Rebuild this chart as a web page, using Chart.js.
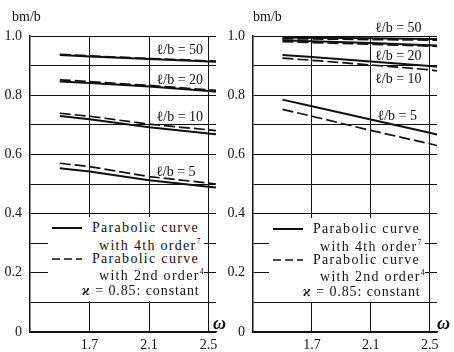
<!DOCTYPE html>
<html lang="en">
<head>
<meta charset="UTF-8">
<title>bm/b against omega</title>
<script src="https://cdn.jsdelivr.net/npm/chart.js"></script>
<style>
    body {
        margin: 0;
        background: #fff;
        color: #111;
        font-family: "Liberation Serif", "DejaVu Serif", serif;
    }
    #wrap {
        position: relative;
        width: 454px;
        height: 352px;
        overflow: hidden;
    }
    canvas {
        position: absolute;
        top: 0;
    }
    #leftChart { left: 0; }
    #rightChart { left: 227px; }
    .txt {
        position: absolute;
        white-space: nowrap;
        font-size: 14px;
        line-height: 16px;
        transform: translateY(-50%);
    }
    .spaced { letter-spacing: 1.3px; }
    .kappa { letter-spacing: 0.9px; }
    .txt sup { font-size: 8px; vertical-align: 6px; line-height: 0; }
    .omega { font-size: 18px; font-weight: bold; font-style: italic; }
    .legend-box {
        position: absolute;
        background: #fff;
    }
    svg.sample {
        position: absolute;
        overflow: visible;
    }
</style>
</head>
<body>
<div id="wrap">
    <canvas id="leftChart" width="227" height="352"></canvas>
    <canvas id="rightChart" width="227" height="352"></canvas>

    <span class="txt" style="left:12px; top:17px;">bm/b</span>
    <span class="txt" style="left:253px; top:17px;">bm/b</span>
    <span class="txt omega" style="left:213px; top:323px;">ω</span>
    <span class="txt omega" style="left:437px; top:323px;">ω</span>
</div>

<script>
// x values where the curves are read (omega)
const omega = [1.5, 1.7, 2.1, 2.5, 2.55];
const xTicks = [1.7, 2.1, 2.5];
const yLabelled = [0, 0.2, 0.4, 0.6, 0.8, 1.0];
const ratioNames = ['ℓ/b = 50', 'ℓ/b = 20', 'ℓ/b = 10', 'ℓ/b = 5'];

// left panel: solid = parabolic 4th order, dashed = parabolic 2nd order
const left4th50 = [0.936, 0.931, 0.922, 0.914, 0.913];
const left2nd50 = [0.938, 0.933, 0.924, 0.916, 0.915];
const left4th20 = [0.846, 0.841, 0.829, 0.814, 0.812];
const left2nd20 = [0.852, 0.846, 0.833, 0.818, 0.816];
const left4th10 = [0.730, 0.719, 0.692, 0.671, 0.668];
const left2nd10 = [0.739, 0.729, 0.702, 0.683, 0.680];
const left4th5  = [0.553, 0.542, 0.513, 0.491, 0.488];
const left2nd5  = [0.570, 0.559, 0.525, 0.503, 0.500];

// right panel
const right4th50 = [0.995, 0.994, 0.992, 0.990, 0.990];
const right2nd50 = [0.991, 0.990, 0.988, 0.986, 0.986];
const right4th20 = [0.986, 0.982, 0.976, 0.969, 0.968];
const right2nd20 = [0.981, 0.978, 0.972, 0.966, 0.965];
const right4th10 = [0.936, 0.929, 0.914, 0.899, 0.896];
const right2nd10 = [0.925, 0.918, 0.902, 0.886, 0.882];
const right4th5  = [0.785, 0.763, 0.718, 0.673, 0.667];
const right2nd5  = [0.752, 0.729, 0.681, 0.636, 0.630];

const ink = '#111';
const serif = '"Liberation Serif", "DejaVu Serif", serif';

function toPoints(arr) {
    return omega.map((x, i) => ({ x: x, y: arr[i] }));
}

function curve(arr, dashed) {
    return {
        data: toPoints(arr),
        borderColor: ink,
        borderWidth: dashed ? 1.7 : 2,
        borderDash: dashed ? [11, 4] : [],
        pointRadius: 0,
        tension: 0,
        fill: false
    };
}

// draws the l/b labels next to the curves
const curveLabels = {
    id: 'curveLabels',
    afterDatasetsDraw(chart, args, opts) {
        const ctx = chart.ctx;
        const xs = chart.scales.x, ys = chart.scales.y;
        ctx.save();
        ctx.font = '14px ' + serif;
        ctx.fillStyle = ink;
        ctx.textAlign = 'center';
        ctx.textBaseline = 'middle';
        opts.items.forEach(it => {
            ctx.fillText(it.text, xs.getPixelForValue(it.x), ys.getPixelForValue(it.y));
        });
        ctx.restore();
    }
};

function makeChart(id, pairs, axisWidth, rightPad, labelPos) {
    const datasets = [];
    pairs.forEach(p => {
        datasets.push(curve(p[0], false));
        datasets.push(curve(p[1], true));
    });
    return new Chart(document.getElementById(id), {
        type: 'line',
        data: { datasets: datasets },
        options: {
            responsive: false,
            animation: false,
            devicePixelRatio: 1,
            layout: { padding: { top: 36, right: rightPad, left: 0, bottom: 0 } },
            plugins: {
                legend: { display: false },
                tooltip: { enabled: false },
                curveLabels: {
                    items: labelPos.map((p, i) => ({ text: ratioNames[i], x: p[0], y: p[1] }))
                }
            },
            scales: {
                x: {
                    type: 'linear',
                    min: 1.3,
                    max: 2.55,
                    afterBuildTicks: s => { s.ticks = xTicks.map(v => ({ value: v })); },
                    afterFit: s => { s.height = 20; },
                    grid: { color: ink, lineWidth: 1, drawTicks: false },
                    border: { color: ink, width: 1.5 },
                    ticks: {
                        color: ink,
                        padding: 5,
                        autoSkip: false,
                        maxRotation: 0,
                        font: { family: serif, size: 14 },
                        callback: v => v.toFixed(1)
                    }
                },
                y: {
                    min: 0,
                    max: 1.0,
                    afterFit: s => { s.width = axisWidth; },
                    grid: { color: ink, lineWidth: 1, drawTicks: false },
                    border: { color: ink, width: 1.5 },
                    ticks: {
                        stepSize: 0.1,
                        color: ink,
                        padding: 8,
                        font: { family: serif, size: 14 },
                        callback: v => {
                            const hit = yLabelled.find(t => Math.abs(t - v) < 1e-6);
                            if (hit === undefined) return '';
                            return hit === 0 ? '0' : hit.toFixed(1);
                        }
                    }
                }
            }
        },
        plugins: [curveLabels]
    });
}

makeChart('leftChart',
    [[left4th50, left2nd50], [left4th20, left2nd20], [left4th10, left2nd10], [left4th5, left2nd5]],
    30, 11,
    [[2.307, 0.953], [2.307, 0.849], [2.307, 0.726], [2.28, 0.541]]);

makeChart('rightChart',
    [[right4th50, right2nd50], [right4th20, right2nd20], [right4th10, right2nd10], [right4th5, right2nd5]],
    26, 17,
    [[2.287, 1.027], [2.287, 0.930], [2.287, 0.854], [2.28, 0.727]]);

// legend boxes, one per panel
function addLegend(bx, by) {
    const wrap = document.getElementById('wrap');
    const box = document.createElement('div');
    box.className = 'legend-box';
    box.style.left = (bx - 4) + 'px';
    box.style.top = (by - 11) + 'px';
    box.style.width = '156px';
    box.style.height = '84px';
    wrap.appendChild(box);

    function sample(y, dashed) {
        const ns = 'http://www.w3.org/2000/svg';
        const svg = document.createElementNS(ns, 'svg');
        svg.setAttribute('class', 'sample');
        svg.setAttribute('width', '30');
        svg.setAttribute('height', '4');
        svg.style.left = bx + 'px';
        svg.style.top = (by + y - 2) + 'px';
        const line = document.createElementNS(ns, 'line');
        line.setAttribute('x1', 0); line.setAttribute('y1', 2);
        line.setAttribute('x2', 30); line.setAttribute('y2', 2);
        line.setAttribute('stroke', ink);
        line.setAttribute('stroke-width', dashed ? 1.7 : 2);
        if (dashed) line.setAttribute('stroke-dasharray', '8 4');
        svg.appendChild(line);
        wrap.appendChild(svg);
    }
    function text(x, y, html, cls) {
        const s = document.createElement('span');
        s.className = 'txt ' + (cls || '');
        s.style.left = (bx + x) + 'px';
        s.style.top = (by + y) + 'px';
        s.innerHTML = html;
        wrap.appendChild(s);
    }
    sample(0, false);
    text(40, 0, 'Parabolic curve', 'spaced');
    text(47, 18, 'with 4th order<sup>7</sup>', 'spaced');
    sample(31, true);
    text(40, 31, 'Parabolic curve', 'spaced');
    text(47, 48, 'with 2nd order<sup>4</sup>', 'spaced');
    text(30, 63, '<b><i>ϰ</i></b> = 0.85: constant', 'kappa');
}

addLegend(52, 228);
addLegend(273, 229);
</script>
</body>
</html>
